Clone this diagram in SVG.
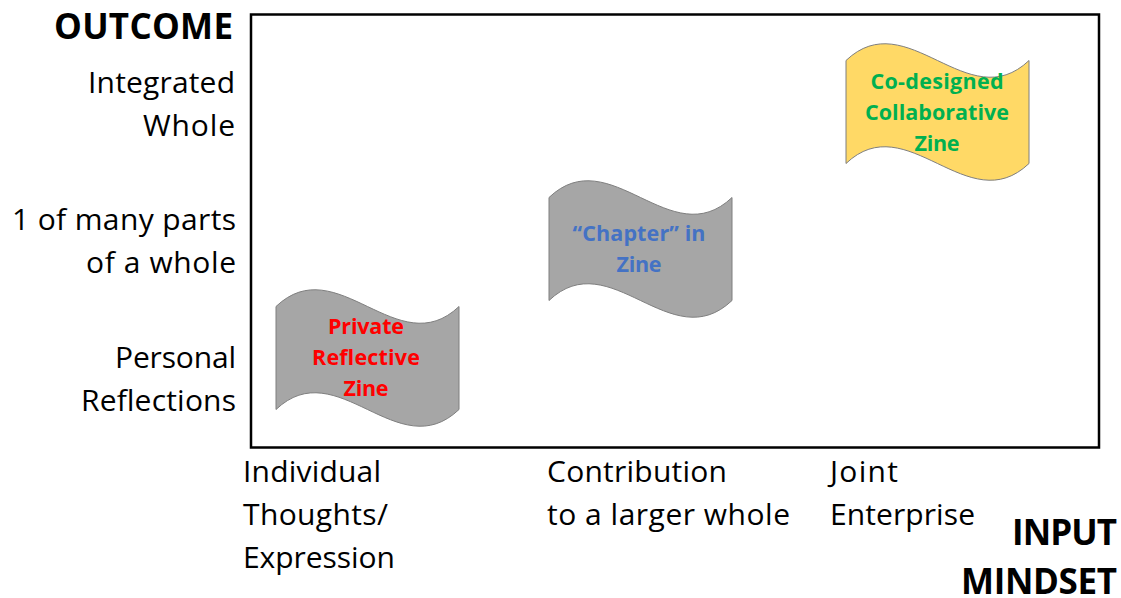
<svg xmlns="http://www.w3.org/2000/svg" width="1121" height="598" viewBox="0 0 1121 598">
<style>
text{font-family:"Open Sans","Noto Sans",sans-serif;fill:#000}
.l{font-size:30px}
.e{text-anchor:end}
.h{font-size:35px;font-weight:700}
.z{font-size:21.500px;font-weight:700;text-anchor:middle}
.w{stroke:#7f7f7f;stroke-width:1}
.r{fill:#f00}.b{fill:#4472c4}.g{fill:#00b050}
</style>
<rect width="1121" height="598" fill="#fff"/>
<rect id="frame" x="251" y="14.500" width="848" height="433" fill="#fff" stroke="#000" stroke-width="2.500"/>
<g id="axis-y">
<text class="h e" x="233" y="39" textLength="179">OUTCOME</text>
<text class="l e" x="235" y="93" textLength="147">Integrated</text>
<text class="l e" x="235" y="136" textLength="92">Whole</text>
<text class="l e" x="236" y="230" textLength="224">1 of many parts</text>
<text class="l e" x="236" y="273" textLength="150">of a whole</text>
<text class="l e" x="236" y="368" textLength="121">Personal</text>
<text class="l e" x="236" y="411" textLength="155">Reflections</text>
</g>
<g id="axis-x">
<text class="l" x="243" y="482" textLength="138">Individual</text>
<text class="l" x="243" y="525" textLength="145">Thoughts/</text>
<text class="l" x="243" y="568" textLength="152">Expression</text>
<text class="l" x="547" y="482" textLength="180">Contribution</text>
<text class="l" x="547" y="525" textLength="243">to a larger whole</text>
<text class="l" x="830" y="482" textLength="68">Joint</text>
<text class="l" x="830" y="525" textLength="145">Enterprise</text>
<text class="h e" x="1117" y="545" textLength="105">INPUT</text>
<text class="h e" x="1117" y="594" textLength="156">MINDSET</text>
</g>
<g id="zine-private">
<path class="w" fill="#a6a6a6" d="M276 306.500C337 248.500 398 364.500 459 306.500V409.500C398 467.500 337 351.500 276 409.500Z"/>
<text class="z r" x="366" y="334" textLength="76">Private</text>
<text class="z r" x="366" y="365" textLength="108">Reflective</text>
<text class="z r" x="366" y="396" textLength="45">Zine</text>
</g>
<g id="zine-chapter">
<path class="w" fill="#a6a6a6" d="M549 197.500C610 139.500 671 255.500 732 197.500V300.500C671 358.500 610 242.500 549 300.500Z"/>
<text class="z b" x="639" y="241" textLength="133">“Chapter” in</text>
<text class="z b" x="639" y="272" textLength="45">Zine</text>
</g>
<g id="zine-collaborative">
<path class="w" fill="#ffd966" d="M846 60.500C907 2.500 968 118.500 1029 60.500V163.500C968 221.500 907 105.500 846 163.500Z"/>
<text class="z g" x="937" y="89" textLength="133">Co-designed</text>
<text class="z g" x="937" y="120" textLength="144">Collaborative</text>
<text class="z g" x="937" y="151" textLength="45">Zine</text>
</g>
</svg>
